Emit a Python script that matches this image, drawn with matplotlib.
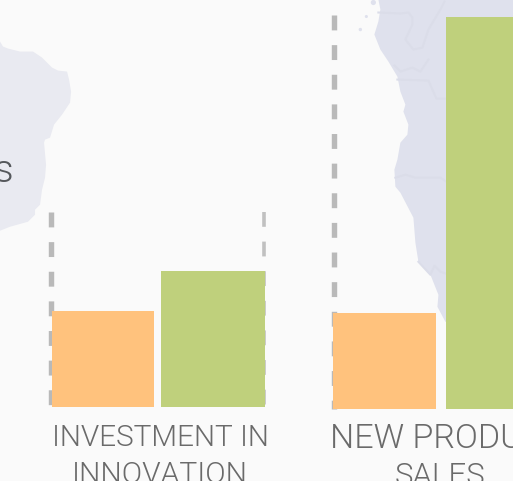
import matplotlib
matplotlib.use('Agg')
import matplotlib.pyplot as plt
from matplotlib.patches import Polygon

# bar heights in pixels above each group's baseline
orange_values = [96, 96]
green_values = [136, 392]
baselines = [407, 409]
orange_left = [52, 333]
green_left = [161, 446]
bar_width = [102, 103]
green_width = [104, 103]

group_labels = [['INVESTMENT IN', 'INNOVATION'], ['NEW PRODUCT', 'SALES']]

# background map outlines
left_land = [(0, 42), (3, 47), (8, 49), (20, 52), (33, 52), (42, 58), (52, 68), (58, 71), (67, 72),
             (69, 80), (71, 92), (70, 103), (62, 115), (54, 125), (50, 138), (45, 140), (44, 143),
             (46, 165), (45, 178), (42, 190), (40, 205), (35, 210), (35, 215), (28, 222), (10, 227),
             (0, 231)]
right_land = [(378, 0), (380, 10), (378, 22), (374, 35), (380, 50), (388, 62), (397, 77), (400, 92),
              (405, 105), (403, 112), (408, 125), (407, 135), (400, 143), (397, 160), (394, 170),
              (395, 187), (400, 193), (413, 218), (415, 243), (418, 262), (430, 275), (438, 295),
              (437, 307), (445, 322), (513, 322), (513, 0)]
borders = [[(378, 13), (400, 14), (408, 13), (412, 18), (412, 25), (405, 40), (413, 50), (422, 48), (428, 30), (440, 10), (444, 2)],
           [(397, 80), (428, 81), (436, 99), (446, 99)],
           [(395, 178), (405, 175), (415, 178), (440, 178), (446, 182)],
           [(418, 262), (430, 275), (434, 266), (440, 272), (446, 274)],
           [(394, 66), (400, 72), (412, 68), (420, 72), (428, 60)]]

# a hair over 481 so the saved height does not round down to 480
fig = plt.figure(figsize=(5.135, 4.815), dpi=100, facecolor='#fafafa')
ax = fig.add_axes([0, 0, 1, 1])
ax.set_xlim(0, 513)
ax.set_ylim(481, 0)
ax.axis('off')

ax.add_patch(Polygon(left_land, closed=True, facecolor='#e9eaf1', edgecolor='none', zorder=1))
ax.add_patch(Polygon(right_land, closed=True, facecolor='#dfe1ed', edgecolor='none', zorder=1))
for line in borders:
    ax.plot([p[0] for p in line], [p[1] for p in line], color='#dbdde9', lw=1.5, zorder=1.5)

# small islands
ax.scatter([373, 366, 360], [3, 17, 30], s=[14, 5, 6], color='#dfe1ed', linewidths=0, zorder=1)

# dashed reference lines
dash = dict(color='#b9b9b9', lw=3.9, linestyle=(0, (2.75, 2.72)), zorder=2)
ax.plot([51, 51], [212, 409], **dash)
ax.plot([334, 334], [15, 409], **dash)
dash['lw'] = 2.6
dash['color'] = '#c0c0c0'
dash['linestyle'] = (0, (4.1, 4.1))
ax.plot([264, 264], [212, 409], **dash)

for i in range(2):
    ax.bar(orange_left[i], -orange_values[i], width=bar_width[i], bottom=baselines[i], align='edge',
           color='#ffc27d', linewidth=0, zorder=3)
    ax.bar(green_left[i], -green_values[i], width=green_width[i], bottom=baselines[i], align='edge',
           color='#bfd07c', linewidth=0, zorder=3)

txt = dict(family=['Roboto', 'DejaVu Sans'], weight=300, color='#6a6a6a', va='baseline', zorder=4)
ax.text(160, 446, group_labels[0][0], ha='center', fontsize=21.4, **txt)
ax.text(160, 482, group_labels[0][1], ha='center', fontsize=21.6, **txt)
ax.text(330, 448, group_labels[1][0], ha='left', fontsize=24.5, **txt)
ax.text(440, 484, group_labels[1][1], ha='center', fontsize=22.5, **txt)
ax.text(13, 182, 's', family=['Roboto', 'DejaVu Sans'], weight=300, color='#55585c', ha='right',
        va='baseline', fontsize=28, zorder=4)

fig.savefig('out.png', dpi=100, facecolor=fig.get_facecolor())
